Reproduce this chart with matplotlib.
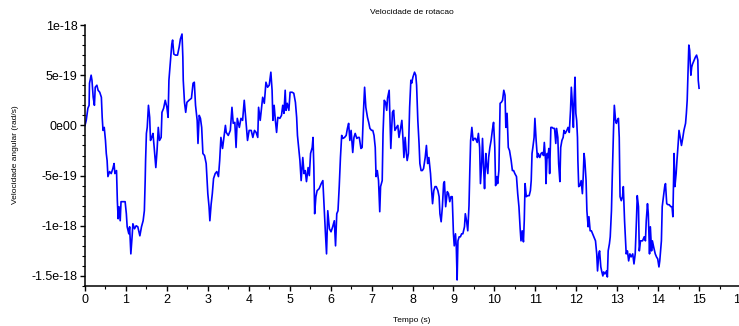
import matplotlib
matplotlib.use("Agg")
import matplotlib.pyplot as plt
import numpy as np
from matplotlib.ticker import FixedLocator, MultipleLocator

# Angular velocity samples, values in units of 1e-19 rad/s
tempo_a = [0.00, 0.03, 0.07, 0.10, 0.11, 0.15, 0.17, 0.20, 0.23, 0.25,
           0.29, 0.32, 0.36, 0.40, 0.42, 0.44, 0.47, 0.50, 0.52, 0.54,
           0.56, 0.60, 0.64, 0.68, 0.71, 0.73, 0.77, 0.79, 0.81, 0.83,
           0.86, 0.88, 0.93, 0.98, 1.01, 1.03, 1.07, 1.09, 1.12, 1.15,
           1.17, 1.21, 1.25, 1.29, 1.34, 1.38, 1.42, 1.45, 1.47, 1.48,
           1.50, 1.52, 1.55, 1.58, 1.60, 1.63, 1.66, 1.69, 1.73, 1.76,
           1.79, 1.82, 1.86, 1.88, 1.92, 1.96, 2.00, 2.03, 2.05, 2.08,
           2.12, 2.14, 2.17, 2.21, 2.26, 2.30, 2.33, 2.37, 2.39, 2.40,
           2.43, 2.46, 2.49, 2.54, 2.60, 2.64, 2.67, 2.70, 2.74, 2.76,
           2.79, 2.82, 2.85, 2.88, 2.92, 2.96, 3.00, 3.03, 3.05, 3.08,
           3.11, 3.14, 3.18, 3.22, 3.26, 3.29, 3.32, 3.36, 3.39, 3.43,
           3.45, 3.50, 3.55, 3.59, 3.62, 3.66, 3.69, 3.72]
omega_a = [0, 0.5, 1.7, 2, 4.2, 5, 4.5, 2.8, 2, 3.8,
           4, 3.5, 3.3, 2.8, 0.8, -0.5, -0.2, -1.5, -2.8, -3.5,
           -5.1, -4.6, -4.8, -4.3, -3.8, -4.8, -4.5, -7.5, -9.3, -8.1,
           -9.5, -7.6, -7.6, -7.6, -8.8, -10.1, -10.8, -10.1, -12.8, -11.1,
           -9.8, -10.3, -10, -10.1, -11, -10.1, -9.5, -8.5, -5.5, -3.5,
           -0.8, -0.2, 2, 0.8, -1.5, -1.2, -0.8, -2.2, -4.2, -2.5,
           -0.2, -1.5, -1.2, 1.3, 1.7, 2.5, 1.8, 0.8, 4.5, 6.1,
           8.1, 8.5, 7.1, 7, 7, 7.8, 8.6, 9.1, 6.8, 4.5,
           2.3, 1.3, 2.3, 2.5, 2.7, 4.2, 4.3, 2, 0.5, -1.8,
           1, 0.7, -0.2, -2.8, -3, -3.8, -6.8, -8.1, -9.5, -7.9,
           -6.8, -5.3, -4.8, -4.6, -5.1, -3.5, -1.2, -2.3, -1.3, 0,
           -0.7, -1, -0.5, 1.8, 0.2, 0.3, -2.2, 0.7]

tempo_b = [3.77, 3.81, 3.85, 3.89, 3.93, 3.97, 4.01, 4.06, 4.10, 4.14,
           4.18, 4.22, 4.24, 4.28, 4.31, 4.34, 4.38, 4.42, 4.46, 4.50,
           4.54, 4.57, 4.59, 4.62, 4.65, 4.68, 4.71, 4.76, 4.80, 4.83,
           4.86, 4.89, 4.91, 4.94, 4.98, 5.01, 5.06, 5.10, 5.14, 5.17,
           5.19, 5.22, 5.25, 5.28, 5.32, 5.35, 5.38, 5.41, 5.45, 5.48,
           5.51, 5.55, 5.57, 5.59, 5.61, 5.64, 5.67, 5.72, 5.77, 5.81,
           5.84, 5.87, 5.90, 5.93, 5.97, 6.01, 6.05, 6.09, 6.12, 6.15,
           6.18, 6.21, 6.24, 6.27, 6.30, 6.34, 6.38, 6.41, 6.44, 6.47,
           6.50, 6.54, 6.57, 6.60, 6.64, 6.67, 6.70, 6.74, 6.77, 6.80,
           6.83, 6.86, 6.90, 6.93, 6.96, 7.00, 7.03, 7.06, 7.09, 7.11,
           7.14, 7.17, 7.20, 7.22, 7.26, 7.28, 7.31, 7.34, 7.37, 7.39,
           7.43, 7.45, 7.47]
omega_b = [-0.2, 0.7, 0.5, 2.5, 0.5, -1.5, -0.5, -0.5, -1.2, -0.5,
           -0.7, -1.2, 1.8, 0.5, 1.7, 2.8, 2.2, 4.3, 3.8, 4,
           5.3, 3.5, 0.5, 2, 0.5, -0.7, 0.8, 0.7, 1, 2,
           1.2, 3.5, 1.5, 2.2, 1.5, 3.3, 3.3, 3.2, 2.3, 0.8,
           -1, -2.2, -3.5, -5.5, -3.2, -4.8, -4.5, -5.6, -4.2, -5,
           -2.8, -2.2, -1.2, -4.2, -8.8, -7.1, -6.5, -6.3, -5.8, -5.5,
           -8.1, -10.5, -12.8, -8.5, -10.3, -10.6, -10.1, -9.5, -12, -8.8,
           -8.5, -6.1, -3.2, -1, -1.3, -1.2, -1, -0.3, 0.2, -1.5,
           -0.5, -2.7, -1.2, -0.8, -1.3, -1.2, -1.2, -2.3, -2.2, 1.2,
           3.8, 1.8, 0.8, 0.3, -0.3, -0.5, -0.5, -1, -2.2, -5.1,
           -4.5, -5.5, -8.6, -6.1, -5.5, -0.8, 2.5, 2.3, 1.5, 2.7,
           3.5, 0.5, -2.3]

tempo_c = [7.51, 7.54, 7.57, 7.61, 7.64, 7.67, 7.70, 7.74, 7.77, 7.79,
           7.82, 7.85, 7.87, 7.90, 7.93, 7.96, 7.98, 8.01, 8.05, 8.08,
           8.10, 8.13, 8.16, 8.18, 8.21, 8.24, 8.27, 8.31, 8.34, 8.37,
           8.40, 8.44, 8.46, 8.49, 8.52, 8.55, 8.58, 8.62, 8.65, 8.67,
           8.70, 8.73, 8.76, 8.78, 8.81, 8.85, 8.88, 8.91, 8.94, 8.97,
           9.00, 9.02, 9.05, 9.07, 9.09, 9.11, 9.14, 9.17, 9.20, 9.23,
           9.27, 9.29, 9.32, 9.35, 9.38, 9.40, 9.42, 9.45, 9.48, 9.51,
           9.54, 9.58, 9.61, 9.64, 9.66, 9.69, 9.71, 9.74, 9.76, 9.79,
           9.81, 9.84, 9.86, 9.89, 9.92, 9.95, 9.98, 10.01, 10.03, 10.06,
           10.08, 10.11, 10.14, 10.17, 10.20, 10.23, 10.26, 10.28, 10.31, 10.34,
           10.37, 10.41, 10.44, 10.47, 10.50, 10.54, 10.57, 10.60, 10.63, 10.65,
           10.68, 10.71, 10.73, 10.75, 10.78, 10.81, 10.85, 10.88, 10.90, 10.92,
           10.94, 10.97, 10.99, 11.02, 11.05, 11.07, 11.11, 11.14, 11.17, 11.20]
omega_c = [1.3, 1.5, -0.5, -0.2, 0, -1.2, -0.5, 0.5, -1.5, -3.2,
           -1.2, -2.8, -3.5, -2.8, 1.8, 4.5, 4.2, 4.8, 5.3, 5,
           4, 0.5, -1.8, -3.8, -4.5, -4.5, -4.3, -3.2, -2, -3.8,
           -3.2, -4.8, -6.1, -7.8, -6.5, -6.1, -6.1, -6.5, -7.1, -8.8,
           -9.6, -8.1, -5.8, -5.6, -8.1, -6.6, -6.8, -7.6, -7.1, -7.1,
           -10.8, -12, -10.8, -12.1, -15.4, -11.5, -11.1, -11.1, -10.8, -10.8,
           -10.1, -8.8, -9.5, -10.5, -8, -4.5, -1.5, -0.2, -1.5, -1.3,
           -1.3, -1.7, -0.8, -2.2, -5.8, -3.8, -1.3, -4.5, -6.3, -2.8,
           -3.8, -4.8, -3.2, -2.2, -1.5, -0.5, 0.3, -2.2, -6, -5.1,
           -5.8, -4.5, 2.2, 2.3, 2.5, 3.5, 3, -0.2, 1.2, -2.2,
           -2.5, -3.5, -4.5, -4.5, -4.8, -5.1, -6.8, -8.1, -10.3, -11.5,
           -10.5, -11.6, -9.5, -5.8, -7.1, -7, -7, -6.5, -5.5, -2.8,
           -2.2, -1.2, 0.7, -1.5, -3.2, -2.8, -3.2, -2.8, -2.7, -3]

tempo_d = [11.22, 11.25, 11.26, 11.29, 11.31, 11.33, 11.35, 11.38, 11.41, 11.44,
           11.47, 11.50, 11.52, 11.55, 11.57, 11.60, 11.62, 11.65, 11.68, 11.70,
           11.73, 11.77, 11.80, 11.83, 11.86, 11.88, 11.91, 11.93, 11.95, 11.97,
           11.99, 12.01, 12.03, 12.04, 12.06, 12.09, 12.12, 12.15, 12.17, 12.19,
           12.21, 12.24, 12.26, 12.29, 12.31, 12.34, 12.37, 12.40, 12.43, 12.47,
           12.50, 12.52, 12.55, 12.57, 12.60, 12.62, 12.65, 12.67, 12.70, 12.74,
           12.76, 12.78, 12.81, 12.83, 12.86, 12.88, 12.91, 12.93, 12.96, 12.98,
           13.00, 13.03, 13.05, 13.07, 13.10, 13.13, 13.15, 13.18, 13.20, 13.22,
           13.25, 13.28, 13.31, 13.34, 13.38, 13.41, 13.44, 13.47, 13.49, 13.52,
           13.54, 13.57, 13.59, 13.62, 13.66, 13.69, 13.71, 13.74, 13.76, 13.79,
           13.81, 13.84, 13.86, 13.89, 13.93, 13.96, 13.99, 14.02, 14.04, 14.08,
           14.10, 14.13, 14.16, 14.18, 14.21, 14.24, 14.27, 14.31, 14.34, 14.36,
           14.39, 14.41, 14.44, 14.46, 14.49, 14.51, 14.54, 14.57, 14.60, 14.63,
           14.67, 14.69, 14.71, 14.73, 14.75, 14.77, 14.80, 14.82, 14.84, 14.88,
           14.91, 14.94, 14.97, 14.98, 15.00]
omega_d = [-1.7, -3.5, -5.8, -2.8, -3.2, -2.3, -4.8, -0.2, -0.2, -0.3,
           -0.3, -1.8, -0.3, -1.2, -3.8, -5.6, -2.2, -1.5, -1.2, -0.5,
           -0.8, -0.5, -0.2, -0.7, 1.5, 3.8, 1.8, -0.2, 2.8, 4.8,
           1.2, 0.5, -1.2, -3.5, -6.1, -6, -5.5, -6.8, -5.1, -2.8,
           -3.5, -5.5, -8.5, -10.1, -9.1, -10.5, -10.5, -10.8, -11.1, -11.5,
           -12.8, -14.5, -12.8, -12.5, -14.1, -14.5, -15, -14.6, -14.8, -14.5,
           -15.1, -12.5, -11.8, -11.1, -8.5, -5.1, -0.5, 2, 0.5, 0.2,
           0.5, 0.7, -1.2, -7.1, -7.5, -7.1, -6.1, -9.5, -11.1, -12.8,
           -12.5, -13.5, -12.8, -13.1, -12.8, -13.8, -12.8, -9.5, -7, -8.1,
           -12.5, -11.5, -11.5, -11.5, -11.1, -11.5, -9.5, -7.8, -8.8, -12.8,
           -10.1, -12.5, -11.5, -12.1, -12.8, -13.1, -13.3, -14.1, -13.5, -11.5,
           -8.1, -7.1, -6.1, -5.8, -7.8, -7.9, -7.9, -8.1, -8.1, -9.1,
           -2.8, -6.1, -4.8, -3.5, -1.8, -0.5, -1.2, -2, -1.3, -0.5,
           0.2, 1.2, 2.5, 5.1, 8, 7.5, 5, 5.8, 6.1, 6.5,
           6.8, 7, 6.5, 4.5, 3.7]

ytick_vals = [-1.5e-18, -1e-18, -5e-19, 0, 5e-19, 1e-18]
ytick_labels = ["-1.5e-18", "-1e-18", "-5e-19", "0e00", "5e-19", "1e-18"]

tempo = np.array(tempo_a + tempo_b + tempo_c + tempo_d)
omega = np.array(omega_a + omega_b + omega_c + omega_d) * 1e-19

plt.rcParams["font.family"] = ["Liberation Sans", "DejaVu Sans"]

fig = plt.figure(figsize=(7.39, 3.26), dpi=100)
ax = fig.add_axes([85 / 739, 1 - 286 / 326, 655 / 739, 261 / 326])

ax.plot(tempo, omega, color="#0000ff", linewidth=1.2)

ax.set_xlim(0, 16)
ax.set_ylim(-1.6e-18, 1e-18)
ax.xaxis.set_major_locator(MultipleLocator(1))
ax.xaxis.set_minor_locator(MultipleLocator(0.5))
ax.yaxis.set_major_locator(FixedLocator(ytick_vals))
ax.set_yticklabels(ytick_labels)
ax.yaxis.set_minor_locator(MultipleLocator(1e-19))
ax.yaxis.get_offset_text().set_visible(False)

for side in ["top", "right"]:
    ax.spines[side].set_visible(False)
for side in ["left", "bottom"]:
    ax.spines[side].set_linewidth(1.1)

ax.tick_params(which="major", direction="out", length=3.5, width=1.0,
               labelsize=9, pad=2)
ax.tick_params(which="minor", direction="out", length=2, width=0.8)

fig.text(412 / 739, 1 - 12 / 326, "Velocidade de rotacao", fontsize=6,
         ha="center", va="center")
fig.text(412 / 739, 1 - 320 / 326, "Tempo (s)", fontsize=6,
         ha="center", va="center")
fig.text(16 / 739, 1 - 155 / 326, "Velocidade angular (rad/s)", fontsize=6,
         ha="center", va="center", rotation=90)

fig.savefig("out.png", dpi=100)
